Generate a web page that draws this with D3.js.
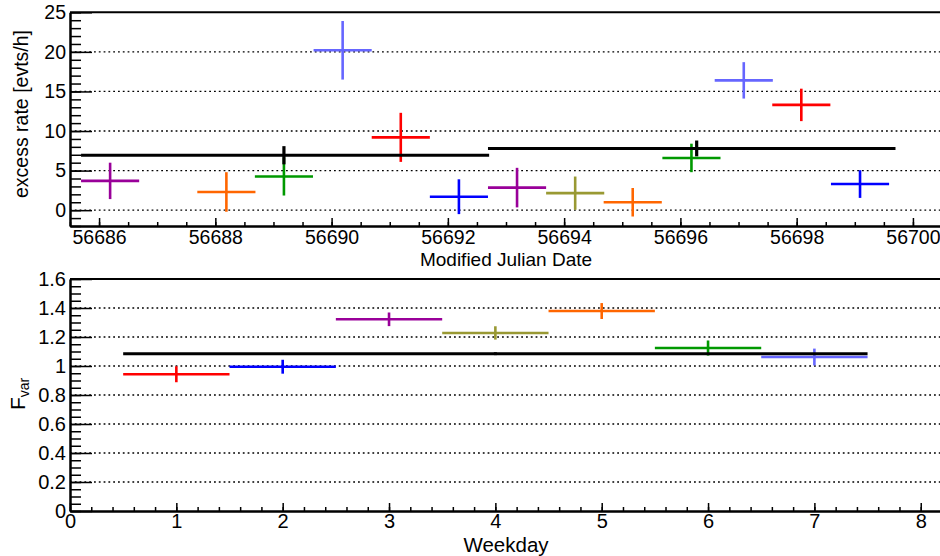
<!DOCTYPE html>
<html>
<head>
<meta charset="utf-8">
<script src="https://cdn.jsdelivr.net/npm/d3@7"></script>
<style>
  body { margin: 0; background: #fff; }
  svg { display: block; font-family: "Liberation Sans", Arial, Helvetica, sans-serif; }
</style>
</head>
<body>
<script>
// colours per weekday (1 = Monday ... 7 = Sunday)
const dayColors = ['#ff0000', '#0000ff', '#990099', '#999933', '#ff6600', '#009900', '#6666ff'];

// top panel: nightly excess rate
const mjd      = [56686.19, 56688.19, 56689.18, 56690.19, 56691.19, 56692.19, 56693.19, 56694.19, 56695.18, 56696.19, 56697.09, 56698.08, 56699.09];
const rate     = [3.7, 2.3, 4.25, 20.2, 9.2, 1.7, 2.85, 2.15, 1.0, 6.6, 16.4, 13.3, 3.3];
const rateErr  = [2.3, 2.5, 2.4, 3.7, 3.1, 2.2, 2.5, 2.1, 1.8, 1.8, 2.3, 2.05, 1.75];
const nightDay = [3, 5, 6, 7, 1, 2, 3, 4, 5, 6, 7, 1, 2];

// weekly averages
const avgStart = [56685.69, 56692.69];
const avgEnd   = [56692.71, 56699.70];
const avgMid   = [56689.18, 56696.28];
const avgRate  = [6.94, 7.8];
const avgErr   = [1.15, 1.0];

// bottom panel: F_var per weekday
const weekday  = [1, 2, 3, 4, 5, 6, 7];
const fvar     = [0.943, 0.995, 1.322, 1.228, 1.379, 1.124, 1.062];
const fvarErr  = [0.055, 0.048, 0.047, 0.046, 0.055, 0.052, 0.058];
const fvarAll  = 1.085;
const fvarAllErr = 0.01;

// tick values
const topYMajor = [0, 5, 10, 15, 20, 25];
const topYMinor = d3.range(-2, 26, 1);
const topXMajor = d3.range(56686, 56701, 2);
const topXMinor = d3.range(56685.5, 56700.6, 0.5);
const botYMajor = d3.range(0, 1.61, 0.2);
const botYMinor = d3.range(0, 1.61, 0.05);
const botXMajor = d3.range(0, 9, 1);
const botXMinor = d3.range(0, 8.21, 0.2);

const width = 940, height = 556;
const left = 70, right = 942;

const svg = d3.select('body').append('svg')
  .attr('width', width)
  .attr('height', height);

function drawFrame(g, x, y, cfg) {
  let [x0, x1] = x.range();
  let [yb, yt] = y.range();

  g.append('g')
    .selectAll('line')
    .data(cfg.grid)
    .join('line')
    .attr('x1', x0).attr('x2', x1)
    .attr('y1', d => y(d)).attr('y2', d => y(d))
    .attr('stroke', '#000')
    .attr('stroke-width', 1.3)
    .attr('stroke-dasharray', '1.8,3');

  // minor ticks first, then the labelled axes
  g.append('g')
    .attr('transform', `translate(${x0},0)`)
    .call(d3.axisLeft(y).tickValues(cfg.yMinor).tickSize(-11).tickSizeOuter(0).tickFormat(''));
  g.append('g')
    .attr('transform', `translate(0,${yb})`)
    .call(d3.axisBottom(x).tickValues(cfg.xMinor).tickSize(-4).tickSizeOuter(0).tickFormat(''));

  let ya = g.append('g')
    .attr('transform', `translate(${x0},0)`)
    .call(d3.axisLeft(y).tickValues(cfg.yMajor).tickSize(-22).tickSizeOuter(0)
      .tickPadding(4).tickFormat(cfg.yFormat));
  let xa = g.append('g')
    .attr('transform', `translate(0,${yb})`)
    .call(d3.axisBottom(x).tickValues(cfg.xMajor).tickSize(-8).tickSizeOuter(0)
      .tickPadding(cfg.xPad).tickFormat(d3.format('d')));

  g.selectAll('.domain').attr('stroke-width', 2);
  g.selectAll('.tick line').attr('stroke-width', 1.5);
  [ya, xa].forEach(a => a.attr('font-family', null).attr('font-size', cfg.fontSize)
    .selectAll('text').attr('fill', '#000'));

  // top border of the frame
  g.append('line')
    .attr('x1', x0).attr('x2', x1)
    .attr('y1', yt).attr('y2', yt)
    .attr('stroke', '#000')
    .attr('stroke-width', 2);
}

function drawCross(g, x, y, cx, cy, dx, dy, color, w) {
  g.append('line')
    .attr('x1', x(cx - dx)).attr('x2', x(cx + dx))
    .attr('y1', y(cy)).attr('y2', y(cy))
    .attr('stroke', color).attr('stroke-width', w);
  g.append('line')
    .attr('x1', x(cx)).attr('x2', x(cx))
    .attr('y1', y(cy - dy)).attr('y2', y(cy + dy))
    .attr('stroke', color).attr('stroke-width', w);
}

// ---- top panel ----
let xTop = d3.scaleLinear().domain([56685.5, 56700.5]).range([left, right]);
let yTop = d3.scaleLinear().domain([-2, 25]).range([226, 12.3]);
let gTop = svg.append('g');

drawFrame(gTop, xTop, yTop, {
  grid: [0, 5, 10, 15, 20],
  yMajor: topYMajor, yMinor: topYMinor,
  xMajor: topXMajor, xMinor: topXMinor,
  yFormat: d3.format('d'), xPad: 4.5, fontSize: 19.5
});

mjd.forEach((m, i) => {
  drawCross(gTop, xTop, yTop, m, rate[i], 0.5, rateErr[i], dayColors[nightDay[i] - 1], 2.6);
});
avgMid.forEach((m, i) => {
  gTop.append('line')
    .attr('x1', xTop(avgStart[i])).attr('x2', xTop(avgEnd[i]))
    .attr('y1', yTop(avgRate[i])).attr('y2', yTop(avgRate[i]))
    .attr('stroke', '#000').attr('stroke-width', 3);
  gTop.append('line')
    .attr('x1', xTop(m)).attr('x2', xTop(m))
    .attr('y1', yTop(avgRate[i] - avgErr[i])).attr('y2', yTop(avgRate[i] + avgErr[i]))
    .attr('stroke', '#000').attr('stroke-width', 3.2);
});

gTop.append('text')
  .attr('transform', 'translate(28,114) rotate(-90)')
  .attr('text-anchor', 'middle')
  .attr('font-size', 19.5)
  .text('excess rate [evts/h]');

gTop.append('text')
  .attr('x', (left + right) / 2)
  .attr('y', 265.5)
  .attr('text-anchor', 'middle')
  .attr('font-size', 19)
  .text('Modified Julian Date');

// ---- bottom panel ----
let xBot = d3.scaleLinear().domain([0, 8.2]).range([left, right]);
let yBot = d3.scaleLinear().domain([0, 1.6]).range([511, 279]);
let gBot = svg.append('g');

drawFrame(gBot, xBot, yBot, {
  grid: [0.2, 0.4, 0.6, 0.8, 1.0, 1.2, 1.4],
  yMajor: botYMajor, yMinor: botYMinor,
  xMajor: botXMajor, xMinor: botXMinor,
  yFormat: d => d3.format('.1f')(d).replace(/\.0$/, ''), xPad: 3, fontSize: 20
});

weekday.forEach((d, i) => {
  drawCross(gBot, xBot, yBot, d, fvar[i], 0.5, fvarErr[i], dayColors[d - 1], 2.6);
});
drawCross(gBot, xBot, yBot, 4, fvarAll, 3.5, fvarAllErr, '#000', 3);

let fl = gBot.append('text')
  .attr('transform', 'translate(25,410) rotate(-90)')
  .attr('font-size', 21);
fl.append('tspan').text('F');
fl.append('tspan').attr('font-size', 14).attr('dy', 4).text('var');

gBot.append('text')
  .attr('x', (left + right) / 2)
  .attr('y', 551.5)
  .attr('text-anchor', 'middle')
  .attr('font-size', 20.5)
  .text('Weekday');
</script>
</body>
</html>
